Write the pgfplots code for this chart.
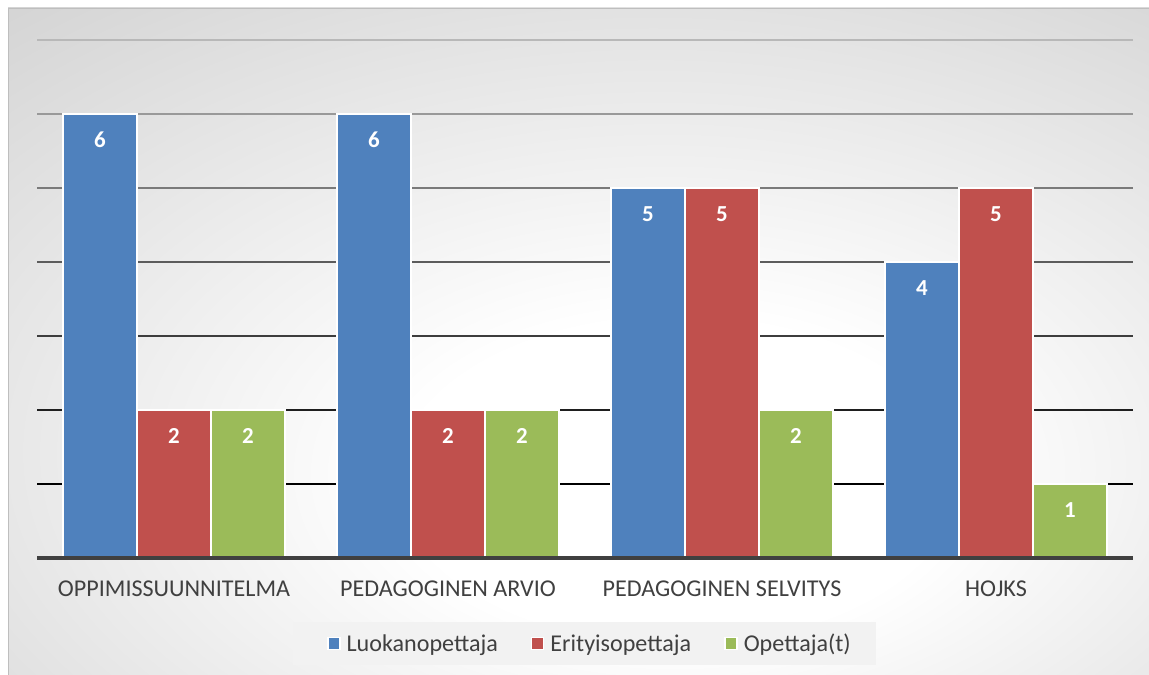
\documentclass[border=0pt]{standalone}
\usepackage{pgfplots}
\pgfplotsset{compat=1.18}
\usepackage{fontspec}
\setmainfont{Carlito}

\definecolor{luok}{HTML}{4F81BD}
\definecolor{erit}{HTML}{C0504D}
\definecolor{opet}{HTML}{9BBB59}
\definecolor{labelgray}{HTML}{404040}
\definecolor{legendbg}{HTML}{F2F2F2}
\definecolor{framegray}{HTML}{BEBEBE}

% soft light spot behind the plot, grey towards the edges
\pgfdeclareradialshading{chartbg}{\pgfpoint{5bp}{-12bp}}{%
  color(0bp)=(white); color(12bp)=(white);
  color(55bp)=(black!24); color(90bp)=(black!33)}

\begin{document}
\begin{tikzpicture}[x=1bp,y=1bp]
\useasboundingbox (0,0) rectangle (1149,675);
\fill[white] (0,0) rectangle (1149,675);
\shade[shading=chartbg] (8,0) rectangle (1149,667);
\draw[framegray, line width=1.2bp] (8.6,0) -- (8.6,666.4) -- (1149,666.4);

\begin{axis}[
  at={(37bp,117bp)}, anchor=south west,
  width=1096bp, height=518bp, scale only axis,
  xmin=-0.5, xmax=3.5, ymin=0, ymax=7,
  enlargelimits=false, clip=false,
  axis line style={draw=none},
  ytick=\empty,
  xtick={0,1,2,3},
  xticklabels={OPPIMISSUUNNITELMA, PEDAGOGINEN ARVIO, PEDAGOGINEN SELVITYS, HOJKS},
  major tick length=0pt,
  xticklabel style={font=\fontsize{24.2}{29}\selectfont, text=labelgray,
                    anchor=base, yshift=-39bp},
  ybar, bar width=74bp,
  /pgf/number format/assume math mode=true,
  nodes near coords,
  every node near coord/.append style={text=white,
        font=\fontsize{23}{27}\selectfont\bfseries,
        anchor=center, yshift=-26bp},
  legend columns=3,
  legend style={at={(axis description cs:0.4995,-0.165)}, anchor=center,
                draw=none, fill=legendbg,
                font=\fontsize{24.2}{29}\selectfont, text=labelgray,
                inner xsep=25bp, inner ysep=9bp,
                nodes={inner xsep=0bp, inner ysep=2.5bp},
                /tikz/every odd column/.append style={column sep=6bp},
                /tikz/every even column/.append style={column sep=24bp}},
  legend image code/.code={%
    \path (-9bp,0bp);
    \draw[#1, line width=1.5bp] (0bp,-6bp) rectangle (12bp,6bp);},
]

% horizontal gridlines, darker towards the bottom
\draw[black!28, line width=2bp] (axis cs:-0.5,7) -- (axis cs:3.5,7);
\draw[black!40, line width=2bp] (axis cs:-0.5,6) -- (axis cs:3.5,6);
\draw[black!52, line width=2bp] (axis cs:-0.5,5) -- (axis cs:3.5,5);
\draw[black!64, line width=2bp] (axis cs:-0.5,4) -- (axis cs:3.5,4);
\draw[black!76, line width=2bp] (axis cs:-0.5,3) -- (axis cs:3.5,3);
\draw[black!88, line width=2bp] (axis cs:-0.5,2) -- (axis cs:3.5,2);
\draw[black, line width=2bp] (axis cs:-0.5,1) -- (axis cs:3.5,1);

\addplot[bar shift=-74bp, fill=luok, draw=white, line width=1.5bp]
  coordinates {(0,6) (1,6) (2,5) (3,4)};
\addlegendentry{Luokanopettaja}
\addplot[bar shift=0bp, fill=erit, draw=white, line width=1.5bp]
  coordinates {(0,2) (1,2) (2,5) (3,5)};
\addlegendentry{Erityisopettaja}
\addplot[bar shift=74bp, fill=opet, draw=white, line width=1.5bp]
  coordinates {(0,2) (1,2) (2,2) (3,1)};
\addlegendentry{Opettaja(t)}

% category axis
\draw[labelgray, line width=4bp] (axis cs:-0.5,0) -- (axis cs:3.5,0);
\end{axis}
\end{tikzpicture}
\end{document}
